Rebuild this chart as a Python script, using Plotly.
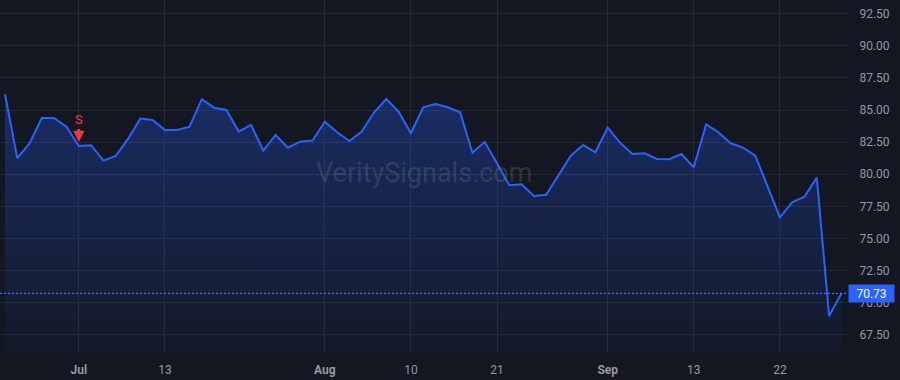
import plotly.graph_objects as go

dates = [
    "2023-06-23", "2023-06-26", "2023-06-27", "2023-06-28", "2023-06-29", "2023-06-30",
    "2023-07-03", "2023-07-05", "2023-07-06", "2023-07-07", "2023-07-10", "2023-07-11",
    "2023-07-12", "2023-07-13", "2023-07-14", "2023-07-17", "2023-07-18", "2023-07-19",
    "2023-07-20", "2023-07-21", "2023-07-24", "2023-07-25", "2023-07-26", "2023-07-27",
    "2023-07-28", "2023-07-31",
    "2023-08-01", "2023-08-02", "2023-08-03", "2023-08-04", "2023-08-07", "2023-08-08",
    "2023-08-09", "2023-08-10", "2023-08-11", "2023-08-14", "2023-08-15", "2023-08-16",
    "2023-08-17", "2023-08-18", "2023-08-21", "2023-08-22", "2023-08-23", "2023-08-24",
    "2023-08-25", "2023-08-28", "2023-08-29", "2023-08-30", "2023-08-31",
    "2023-09-01", "2023-09-05", "2023-09-06", "2023-09-07", "2023-09-08", "2023-09-11",
    "2023-09-12", "2023-09-13", "2023-09-14", "2023-09-15", "2023-09-18", "2023-09-19",
    "2023-09-20", "2023-09-21", "2023-09-22", "2023-09-25", "2023-09-26", "2023-09-27",
    "2023-09-28", "2023-09-29",
]

prices = [
    86.23, 81.25, 82.41, 84.40, 84.36, 83.70,
    82.20, 82.26, 81.06, 81.42, 82.75, 84.33,
    84.23, 83.45, 83.45, 83.70, 85.84, 85.18,
    85.00, 83.32, 83.84, 81.84, 83.06, 82.07,
    82.54, 82.62,
    84.09, 83.27, 82.59, 83.32, 84.80, 85.86,
    84.87, 83.19, 85.21, 85.47, 85.21, 84.82,
    81.68, 82.51, 80.86, 79.14, 79.22, 78.31,
    78.41, 79.95, 81.45, 82.28, 81.71,
    83.63, 82.46, 81.58, 81.63, 81.19, 81.17,
    81.58, 80.54, 83.88, 83.27, 82.41, 82.07,
    81.45, 79.05, 76.65, 77.82, 78.26, 79.74,
    68.97, 70.73,
]

x_tick_vals = ["2023-07-03", "2023-07-13", "2023-08-01", "2023-08-10",
               "2023-08-21", "2023-09-01", "2023-09-13", "2023-09-22"]
x_tick_text = ["<b>Jul</b>", "13", "<b>Aug</b>", "10", "21", "<b>Sep</b>", "13", "22"]

y_tick_vals = [67.5, 70.0, 72.5, 75.0, 77.5, 80.0, 82.5, 85.0, 87.5, 90.0, 92.5]

signal_date = "2023-07-03"
signal_price = 82.20
signal_label = "S"

last_price = prices[-1]
watermark = "VeritySignals.com"

BG = "#131722"
GRID = "#252934"
LINE = "#2962ff"
TEXT = "#9598a1"
FONT = "Roboto, 'Liberation Sans', sans-serif"

fig = go.Figure()
fig.add_trace(go.Scatter(
    x=dates, y=prices, mode="lines",
    line=dict(color=LINE, width=2),
    fill="tozeroy",
    fillgradient=dict(
        type="vertical",
        start=66.0, stop=86.5,
        colorscale=[[0, "rgba(41,98,255,0.03)"], [1, "rgba(41,98,255,0.30)"]],
    ),
    hoverinfo="skip",
    showlegend=False,
))

px_per = 12.3
left_off = 5 / px_per
span = 848 / px_per

fig.update_layout(
    width=900, height=380,
    margin=dict(l=0, r=52, t=0, b=28),
    paper_bgcolor=BG, plot_bgcolor=BG,
    font=dict(family=FONT, size=12, color=TEXT),
    xaxis=dict(
        type="category",
        categoryorder="array", categoryarray=dates,
        range=[-left_off, -left_off + span],
        tickvals=x_tick_vals, ticktext=x_tick_text,
        showgrid=True, gridcolor=GRID, gridwidth=1,
        zeroline=False, showline=False,
        ticks="outside", ticklen=7, tickcolor="rgba(0,0,0,0)",
        tickfont=dict(size=12, color=TEXT),
        fixedrange=True,
    ),
    yaxis=dict(
        side="right",
        range=[66.17, 93.56],
        tickvals=y_tick_vals, tickformat=".2f",
        showgrid=True, gridcolor=GRID, gridwidth=1,
        zeroline=False, showline=False,
        ticks="outside", ticklen=8, tickcolor="rgba(0,0,0,0)",
        tickfont=dict(size=12, color=TEXT),
        fixedrange=True,
    ),
)

# last price dotted line
fig.add_shape(type="line", xref="paper", x0=0, x1=1, yref="y", y0=last_price, y1=last_price,
              line=dict(color="#3a72ff", width=1.3, dash="2px,2px"))

# last price label
fig.add_annotation(xref="paper", x=1, xanchor="left", yref="y", y=last_price, yanchor="middle",
                   text=f"{last_price:.2f}", showarrow=False,
                   font=dict(color="white", size=12, family=FONT),
                   bgcolor=LINE, width=41, height=13, borderpad=2, align="center")

# watermark
fig.add_annotation(xref="paper", x=0.5, yref="paper", y=0.508, text=watermark, showarrow=False,
                   font=dict(size=27, color="rgba(120,126,145,0.28)", family=FONT))

# sell signal
fig.add_annotation(x=signal_date, y=signal_price, xref="x", yref="y",
                   text=signal_label, showarrow=True, ax=0, ay=-26,
                   arrowhead=2, arrowsize=0.75, arrowwidth=3, arrowcolor="#f23645",
                   standoff=4, font=dict(color="#f23645", size=13, family=FONT))

fig.write_html("out.html")
